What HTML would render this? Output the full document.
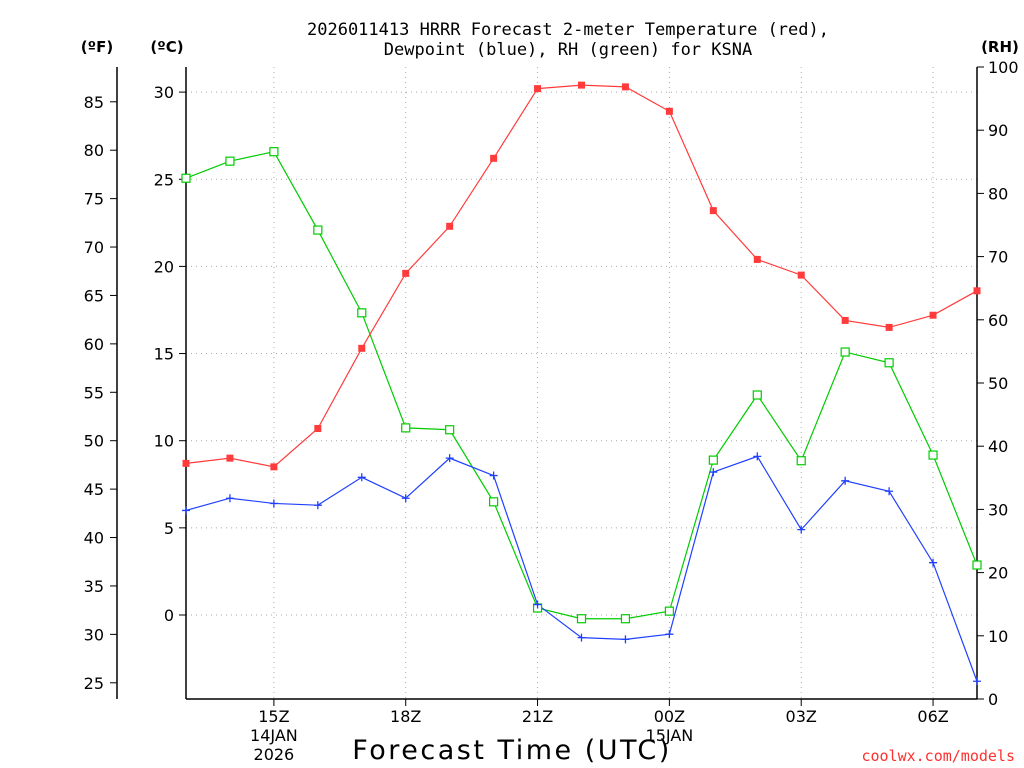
<!DOCTYPE html>
<html><head><meta charset="utf-8"><style>
body{margin:0;background:#fff}
svg{display:block;font-family:"DejaVu Sans","Liberation Sans",sans-serif}
</style></head><body>
<svg id="chart" width="1024" height="768" viewBox="0 0 1024 768">
<g id="grid"></g>
<g id="axes"></g>
<g id="series"></g>
<text x="568" y="35" text-anchor="middle" font-family="DejaVu Sans Mono, monospace" font-size="17">2026011413 HRRR Forecast 2-meter Temperature (red),</text>
<text x="568" y="55" text-anchor="middle" font-family="DejaVu Sans Mono, monospace" font-size="17">Dewpoint (blue), RH (green) for KSNA</text>
<text x="97" y="52" text-anchor="middle" font-weight="bold" font-size="15">(ºF)</text>
<text x="167" y="52" text-anchor="middle" font-weight="bold" font-size="15">(ºC)</text>
<text x="1000" y="52" text-anchor="middle" font-weight="bold" font-size="15">(RH)</text>
<text x="512" y="759" text-anchor="middle" font-size="27" letter-spacing="2.5">Forecast Time (UTC)</text>
<text x="1015" y="761" text-anchor="end" fill="#ff3030" font-family="DejaVu Sans Mono, monospace" font-size="15">coolwx.com/models</text>
</svg>
<script>
const hours=[0,1,2,3,4,5,6,7,8,9,10,11,12,13,14,15,16,17,18];
const tempC=[8.7,9.0,8.5,10.7,15.3,19.6,22.3,26.2,30.2,30.4,30.3,28.9,23.2,20.4,19.5,16.9,16.5,17.2,18.6];
const dewC=[6.0,6.7,6.4,6.3,7.9,6.7,9.0,8.0,0.6,-1.3,-1.4,-1.1,8.2,9.1,4.9,7.7,7.1,3.0,-3.8];
const rh=[82.4,85.1,86.6,74.2,61.1,42.9,42.6,31.2,14.4,12.7,12.7,13.9,37.8,48.1,37.7,54.9,53.2,38.6,21.2];
const cTicks=[0,5,10,15,20,25,30];
const fTicks=[25,30,35,40,45,50,55,60,65,70,75,80,85];
const rhTicks=[0,10,20,30,40,50,60,70,80,90,100];
const xTickHours=[2,5,8,11,14,17];
const xTickLabels=["15Z","18Z","21Z","00Z","03Z","06Z"];
const x0=186,x1=977,yT=67,yB=699;
const xs=h=>x0+h*(x1-x0)/18;
const yc=c=>615-c*17.43;
const yf=f=>yc((f-32)*5/9);
const yr=r=>yB-r*(yB-yT)/100;
const NS="http://www.w3.org/2000/svg";
function mk(parent,tag,attrs,text){const e=document.createElementNS(NS,tag);for(const k in attrs)e.setAttribute(k,attrs[k]);if(text!==undefined)e.textContent=text;document.getElementById(parent).appendChild(e);return e;}
cTicks.forEach(c=>{const e=mk('grid','line',{x1:x0,x2:x1,y1:yc(c),y2:yc(c),stroke:'#aaa','stroke-dasharray':'1,4'});

});
xTickHours.forEach(h=>{const e=mk('grid','line',{x1:xs(h),x2:xs(h),y1:yT,y2:yB,stroke:'#aaa','stroke-dasharray':'1,4'});

});
[[x0,yT,x0,yB],[x0,yB,x1,yB],[x1,yT,x1,yB],[117,67,117,699]].forEach(p=>{const e=mk('axes','line',{x1:p[0],y1:p[1],x2:p[2],y2:p[3],stroke:'#000','stroke-width':1.5});

});
cTicks.forEach(c=>{mk('axes','line',{x1:x0-7,x2:x0,y1:yc(c),y2:yc(c),stroke:'#000'});
const t=mk('axes','text',{x:174,y:yc(c)+6,'text-anchor':'end','font-size':16},String(c));

});
fTicks.forEach(f=>{mk('axes','line',{x1:110,x2:117,y1:yf(f),y2:yf(f),stroke:'#000'});
const t=mk('axes','text',{x:104,y:yf(f)+6,'text-anchor':'end','font-size':16},String(f));

});
rhTicks.forEach(r=>{mk('axes','line',{x1:x1,x2:x1+7,y1:yr(r),y2:yr(r),stroke:'#000'});
const t=mk('axes','text',{x:988,y:yr(r)+6,'font-size':16},String(r));

});
xTickHours.forEach((h,i)=>{mk('axes','line',{x1:xs(h),x2:xs(h),y1:yB,y2:yB+7,stroke:'#000'});
const t=mk('axes','text',{x:xs(h),y:722,'text-anchor':'middle','font-size':16},xTickLabels[i]);

});
[["14JAN",2,741],["2026",2,760],["15JAN",11,741]].forEach(d=>{const t=mk('axes','text',{x:xs(d[1]),y:d[2],'text-anchor':'middle','font-size':16},d[0]);

});
function line(vals,yfn,color,name){const pts=vals.map((v,i)=>xs(hours[i])+','+yfn(v)).join(' ');
const e=mk('series','polyline',{points:pts,fill:'none',stroke:color,'stroke-width':1.2});

}
line(rh,yr,'#00cc00','rh-line');
line(dewC,yc,'#2040ff','dewpoint-line');
line(tempC,yc,'#ff3b3b','temperature-line');
rh.forEach((v,i)=>{const e=mk('series','rect',{x:xs(hours[i])-4,y:yr(v)-4,width:8,height:8,fill:'#fff',stroke:'#00cc00','stroke-width':1.2});

});
dewC.forEach((v,i)=>{const x=xs(hours[i]),y=yc(v);const e=mk('series','path',{d:`M${x-4},${y}H${x+4}M${x},${y-4}V${y+4}`,stroke:'#2040ff','stroke-width':1.3});

});
tempC.forEach((v,i)=>{const e=mk('series','rect',{x:xs(hours[i])-3.5,y:yc(v)-3.5,width:7,height:7,fill:'#ff3b3b'});

});
</script>
</body></html>
